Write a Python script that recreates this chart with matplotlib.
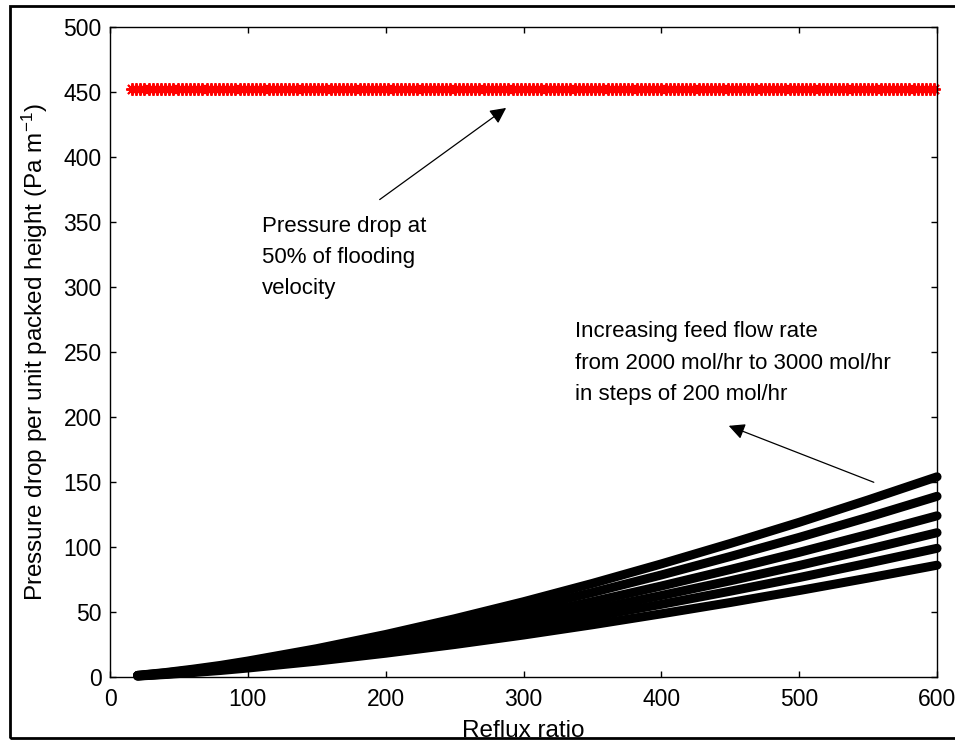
import matplotlib
import numpy as np

matplotlib.use("Agg")
from matplotlib import pyplot as plt
from matplotlib.patches import Rectangle

plt.rcParams["font.family"] = ["Liberation Sans", "DejaVu Sans"]
plt.rcParams["mathtext.default"] = "regular"

# reflux ratio points
reflux = [20, 40, 60, 80, 100, 150, 200, 250, 300, 350, 400, 450, 500, 550, 600]

# pressure drop (Pa/m) for feed 3000 ... 2000 mol/hr (top to bottom curve)
dp_3000 = [1.3, 3.4, 6.0, 8.9, 12.3, 21.8, 32.7, 44.8, 57.9, 72.0, 87.0, 102.7, 119.0, 136.2, 154]
dp_2800 = [1.2, 3.1, 5.4, 8.1, 11.1, 19.7, 29.5, 40.4, 52.3, 65.0, 78.5, 92.7, 107.4, 122.9, 139]
dp_2600 = [1.0, 2.7, 4.8, 7.2, 9.9, 17.6, 26.4, 36.1, 46.6, 58.0, 70.0, 82.7, 95.9, 109.7, 124]
dp_2400 = [0.9, 2.4, 4.3, 6.4, 8.9, 15.7, 23.6, 32.3, 41.7, 51.9, 62.7, 74.0, 85.8, 98.2, 111]
dp_2200 = [0.8, 2.2, 3.9, 5.7, 7.9, 14.0, 21.0, 28.8, 37.2, 46.3, 55.9, 66.0, 76.5, 87.6, 99]
dp_2000 = [0.7, 1.9, 3.4, 5.0, 6.9, 12.2, 18.3, 25.0, 32.3, 40.2, 48.6, 57.3, 66.5, 76.1, 86]
curves = [dp_3000, dp_2800, dp_2600, dp_2400, dp_2200, dp_2000]

# flooding limit: constant pressure drop at 50% of flooding velocity,
# evaluated on the simulation's reflux grid
flood_reflux = np.arange(16, 601, 3)
flood_dp = 452

x_ticks = [0, 100, 200, 300, 400, 500, 600]
y_ticks = [0, 50, 100, 150, 200, 250, 300, 350, 400, 450, 500]

fig = plt.figure(figsize=(9.55, 7.42), dpi=100)
ax = fig.add_axes([0.1152, 0.0876, 0.866, 0.876])

for dp in curves:
    ax.plot(reflux, dp, color="black", linewidth=6.5, solid_capstyle="round",
            solid_joinstyle="round", clip_on=False)

ax.plot(flood_reflux, np.full(len(flood_reflux), flood_dp), color="red",
        linewidth=1.2, marker=(8, 2, 0), markersize=9, markeredgewidth=1.4,
        clip_on=False)

ax.set_xlim(0, 600)
ax.set_ylim(0, 500)
ax.set_xticks(x_ticks)
ax.set_yticks(y_ticks)
ax.tick_params(direction="in", length=4, width=1, top=True, right=True,
               labelsize=16.5)
ax.tick_params(axis="x", pad=8)
ax.tick_params(axis="y", pad=6)
for s in ax.spines.values():
    s.set_linewidth(1)

ax.set_xlabel("Reflux ratio", fontsize=17.5, labelpad=6.5)
ax.set_ylabel("Pressure drop per unit packed height (Pa m$^{-1}$)",
              fontsize=17.5, labelpad=10)

ax.annotate("", xy=(289, 439), xytext=(194, 366),
            arrowprops=dict(arrowstyle="-|>", color="black", lw=0.9,
                            mutation_scale=24))
ax.text(110, 355, "Pressure drop at\n50% of flooding\nvelocity",
        fontsize=16, va="top", ha="left", linespacing=1.65)

ax.annotate("", xy=(447, 194), xytext=(556, 149),
            arrowprops=dict(arrowstyle="-|>", color="black", lw=0.9,
                            mutation_scale=24))
ax.text(337, 273.5, "Increasing feed flow rate\nfrom 2000 mol/hr to 3000 mol/hr\n"
        "in steps of 200 mol/hr", fontsize=16, va="top", ha="left",
        linespacing=1.65)

# outer frame, right side runs off the image
fig.patches.append(Rectangle((0.0105, 0.0054), 1.1, 0.9865,
                             transform=fig.transFigure, fill=False,
                             edgecolor="black", linewidth=2, zorder=10))

fig.savefig("out.png", dpi=100)
plt.close(fig)
